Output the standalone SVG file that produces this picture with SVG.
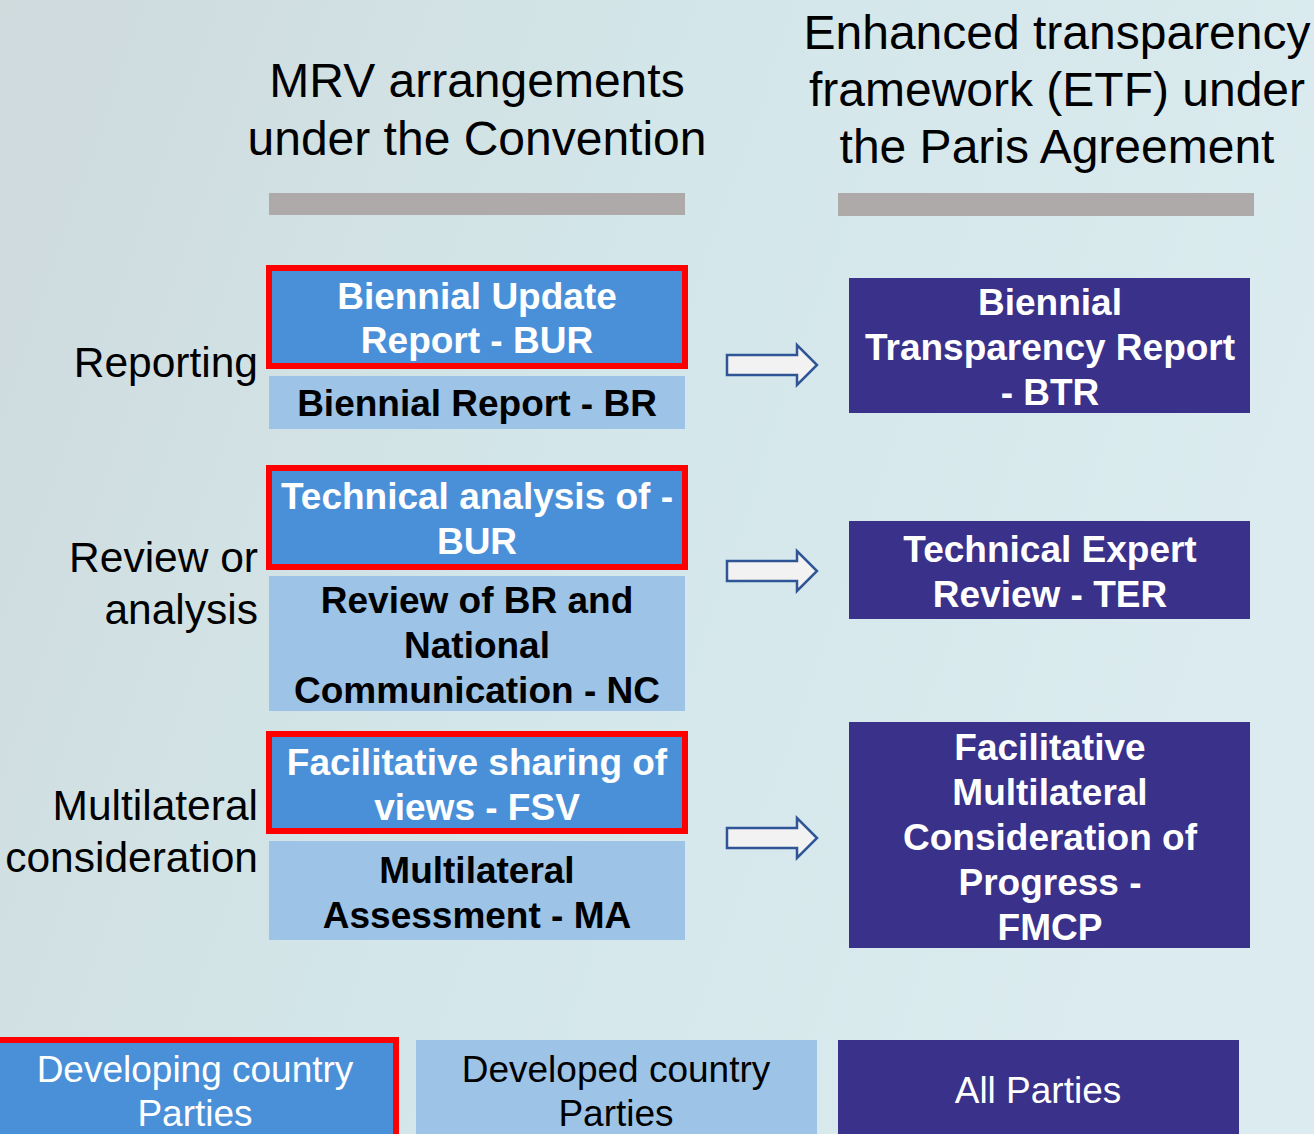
<svg xmlns="http://www.w3.org/2000/svg" width="1314" height="1134" viewBox="0 0 1314 1134">
<defs>
<linearGradient id="bg" x1="0" y1="0" x2="1" y2="0.3">
<stop offset="0" stop-color="#cfdadd"/>
<stop offset="0.5" stop-color="#d3e6e9"/>
<stop offset="1" stop-color="#dbebef"/>
</linearGradient>
<path id="arr" d="M0,-10 H70 V-20 L90,0 L70,20 V10 H0 Z"/>
</defs>
<style>
.t{font-family:"Liberation Sans",Arial,sans-serif;text-anchor:middle}
.title{font-size:48px;fill:#000}
.lab{font-size:42.5px;fill:#000;text-anchor:end}
.b{font-size:37px;font-weight:bold}
.w{fill:#fff}
.k{fill:#000}
.bot{font-size:37px}
.blue{fill:#4a90d9}
.lblue{fill:#9dc3e6}
.dark{fill:#3a318b}
.red{stroke:#ff0000;stroke-width:6}
.bar{fill:#aeaaaa}
.arrow{fill:#f2f2f2;stroke:#2f5597;stroke-width:2.5}
</style>
<rect width="1314" height="1134" fill="url(#bg)"/>

<g id="title-left">
<text class="t title" x="477" y="97">MRV arrangements</text>
<text class="t title" x="477" y="155">under the Convention</text>
<rect class="bar" x="269" y="193" width="416" height="22"/>
</g>
<g id="title-right">
<text class="t title" x="1057" y="49">Enhanced transparency</text>
<text class="t title" x="1057" y="106">framework (ETF) under</text>
<text class="t title" x="1057" y="163">the Paris Agreement</text>
<rect class="bar" x="838" y="193" width="416" height="23"/>
</g>

<g id="label-reporting"><text class="t lab" x="258" y="377">Reporting</text></g>
<g id="label-review">
<text class="t lab" x="258" y="572">Review or</text>
<text class="t lab" x="258" y="624">analysis</text>
</g>
<g id="label-multilateral">
<text class="t lab" x="258" y="820">Multilateral</text>
<text class="t lab" x="258" y="872">consideration</text>
</g>

<g id="bur">
<rect class="blue red" x="269" y="268" width="416" height="98"/>
<text class="t b w" x="477" y="309">Biennial Update</text>
<text class="t b w" x="477" y="353">Report - BUR</text>
</g>
<g id="br">
<rect class="lblue" x="269" y="376" width="416" height="53"/>
<text class="t b k" x="477" y="416">Biennial Report - BR</text>
</g>
<g id="btr">
<rect class="dark" x="849" y="278" width="401" height="135"/>
<text class="t b w" x="1050" y="315">Biennial</text>
<text class="t b w" x="1050" y="360">Transparency Report</text>
<text class="t b w" x="1050" y="405">- BTR</text>
</g>

<g id="ta-bur">
<rect class="blue red" x="269" y="468" width="416" height="99"/>
<text class="t b w" x="477" y="509">Technical analysis of -</text>
<text class="t b w" x="477" y="554">BUR</text>
</g>
<g id="review-br-nc">
<rect class="lblue" x="269" y="576" width="416" height="135"/>
<text class="t b k" x="477" y="613">Review of BR and</text>
<text class="t b k" x="477" y="658">National</text>
<text class="t b k" x="477" y="703">Communication - NC</text>
</g>
<g id="ter">
<rect class="dark" x="849" y="521" width="401" height="98"/>
<text class="t b w" x="1050" y="562">Technical Expert</text>
<text class="t b w" x="1050" y="607">Review - TER</text>
</g>

<g id="fsv">
<rect class="blue red" x="269" y="734" width="416" height="97"/>
<text class="t b w" x="477" y="775">Facilitative sharing of</text>
<text class="t b w" x="477" y="820">views - FSV</text>
</g>
<g id="ma">
<rect class="lblue" x="269" y="841" width="416" height="99"/>
<text class="t b k" x="477" y="883">Multilateral</text>
<text class="t b k" x="477" y="928">Assessment - MA</text>
</g>
<g id="fmcp">
<rect class="dark" x="849" y="722" width="401" height="226"/>
<text class="t b w" x="1050" y="760">Facilitative</text>
<text class="t b w" x="1050" y="805">Multilateral</text>
<text class="t b w" x="1050" y="850">Consideration of</text>
<text class="t b w" x="1050" y="895">Progress -</text>
<text class="t b w" x="1050" y="940">FMCP</text>
</g>

<g id="developing">
<rect class="blue red" x="-10" y="1040" width="406" height="120"/>
<text class="t bot w" x="195" y="1082">Developing country</text>
<text class="t bot w" x="195" y="1126">Parties</text>
</g>
<g id="developed">
<rect class="lblue" x="416" y="1040" width="401" height="100"/>
<text class="t bot k" x="616" y="1082">Developed country</text>
<text class="t bot k" x="616" y="1126">Parties</text>
</g>
<g id="all-parties">
<rect class="dark" x="838" y="1040" width="401" height="100"/>
<text class="t bot w" x="1038" y="1103">All Parties</text>
</g>

<g id="connectors">
<use href="#arr" class="arrow" transform="translate(727,365)"/>
<use href="#arr" class="arrow" transform="translate(727,571)"/>
<use href="#arr" class="arrow" transform="translate(727,838)"/>
</g>
</svg>
